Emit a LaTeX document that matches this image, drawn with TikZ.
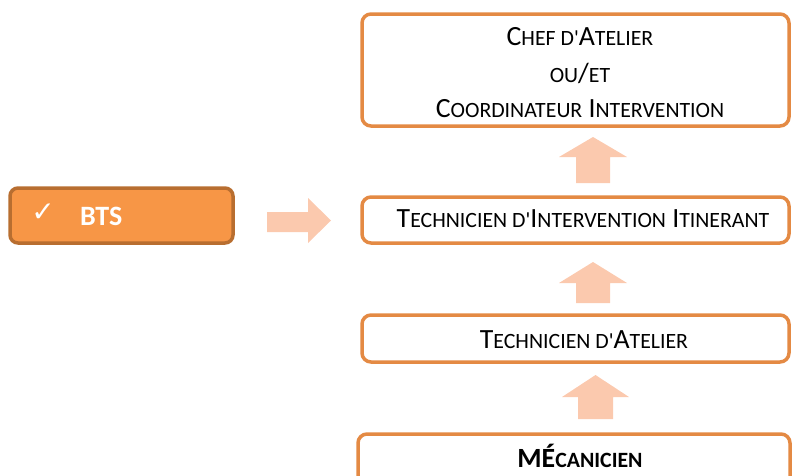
\documentclass[tikz,border=0pt]{standalone}
\usepackage{fontspec}
\setmainfont{Carlito}[Ligatures=TeXOff]
\newfontfamily\symfont{DejaVu Sans}
\newcommand\smc[1]{{\fontsize{21.8}{24}\selectfont #1}}
\definecolor{boxline}{HTML}{E48A44}
\definecolor{btsfill}{HTML}{F79646}
\definecolor{btsline}{HTML}{B86E30}
\definecolor{arrowfill}{HTML}{FBC9AE}
\tikzset{
  stagebox/.style={draw=boxline, line width=3.5pt, rounded corners=9pt, fill=white, inner sep=0pt},
  btsbox/.style={draw=btsline, fill=btsfill, line width=3.5pt, rounded corners=8pt, inner sep=0pt},
  blockarrow/.style={fill=arrowfill, draw=none},
  lbl/.style={inner sep=0pt, anchor=base, font=\fontsize{27.8}{30}\selectfont}
}
\begin{document}
\begin{tikzpicture}[x=1pt,y=-1pt]
\useasboundingbox (0,0) rectangle (792,475);
\clip (0,0) rectangle (792,475);
% boxes
\node[stagebox, minimum width=427pt, minimum height=112pt] (chef) at (575.5,70) {};
\node[stagebox, minimum width=427pt, minimum height=46pt] (iti) at (575.5,220) {};
\node[stagebox, minimum width=427pt, minimum height=47pt] (atel) at (575.5,338.5) {};
\node[stagebox, minimum width=432pt, minimum height=80pt] (meca) at (574,474) {};
\node[btsbox, minimum width=223pt, minimum height=55pt] (bts) at (121.5,215.5) {};
% texts
\node[lbl] (chef1) at (580,45) {C\smc{HEF D'}A\smc{TELIER}};
\node[lbl] (chef2) at (580,82) {\smc{OU}/\smc{ET}};
\node[lbl] (chef3) at (580,117) {C\smc{OORDINATEUR} I\smc{NTERVENTION}};
\node[lbl] (itit) at (583,227) {T\smc{ECHNICIEN D'}I\smc{NTERVENTION} I\smc{TINERANT}};
\node[lbl] (atelt) at (584,348) {T\smc{ECHNICIEN D'}A\smc{TELIER}};
\node[lbl, font=\bfseries\fontsize{27.8}{30}\selectfont] (mecat) at (580,467) {MÉ\smc{CANICIEN}};
\node[inner sep=0pt, text=white, font=\symfont\fontsize{28}{30}\selectfont] (check) at (43,213) {✓};
\node[inner sep=0pt, anchor=base west, text=white, font=\bfseries\fontsize{28}{30}\selectfont] (btst) at (80,225) {BTS};
% block arrows
\fill[blockarrow] (576,183) -- (576,157) -- (559,157) -- (593,137) -- (627,157) -- (610,157) -- (610,183) -- cycle;
\fill[blockarrow] (576,303) -- (576,283) -- (559,283) -- (593,262) -- (627,283) -- (610,283) -- (610,303) -- cycle;
\fill[blockarrow] (578,419) -- (578,397) -- (562,397) -- (595.5,375) -- (629,397) -- (613,397) -- (613,419) -- cycle;
\fill[blockarrow] (267,212) -- (308,212) -- (308,198) -- (331,220.5) -- (308,243) -- (308,232) -- (267,232) -- cycle;
\end{tikzpicture}
\end{document}
